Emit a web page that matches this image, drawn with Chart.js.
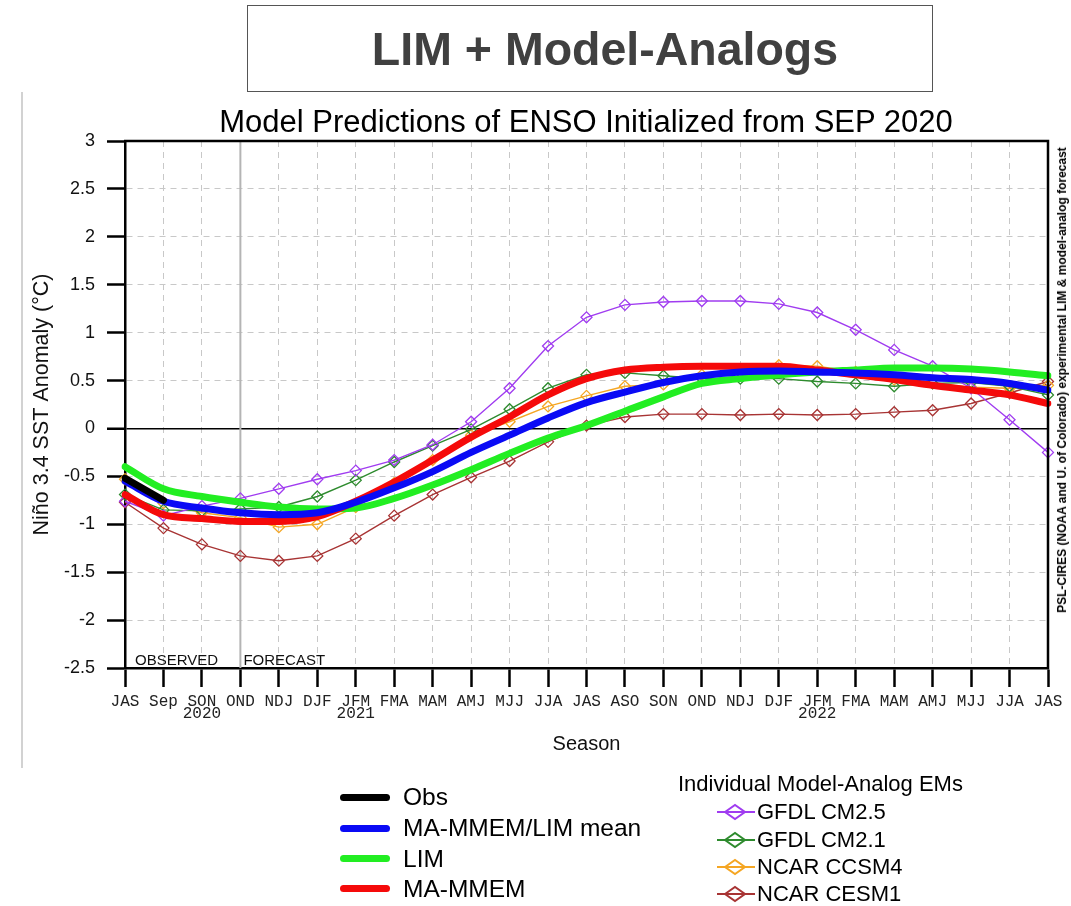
<!DOCTYPE html>
<html>
<head>
<meta charset="utf-8">
<script src="https://cdn.jsdelivr.net/npm/chart.js@4.4.1/dist/chart.umd.min.js"></script>
<style>
  body { margin: 0; background: #fff; font-family: "Liberation Sans", Arial, sans-serif; }
  #page { position: relative; width: 1071px; height: 906px; overflow: hidden; }
  #chart { position: absolute; left: 0; top: 0; }
  .t { position: absolute; white-space: nowrap; line-height: 1; color: #000; }
  #box { position: absolute; left: 247px; top: 5px; width: 686px; height: 87px; border: 1.5px solid #555;
         box-sizing: border-box; display: flex; align-items: center; justify-content: center; padding-left: 30px; }
  #box span { font: bold 46.5px "Liberation Sans", Arial, sans-serif; color: #404040; }
  #edge { position: absolute; left: 21px; top: 92px; width: 2px; height: 676px; background: #d2d2d2; }
  #title { left: 586px; top: 106px; font-size: 31px; transform: translateX(-50%); }
  #note { left: 1062px; top: 380px; font-size: 12px; font-weight: bold; transform: translate(-50%, -50%) rotate(-90deg); }
  .swatch { position: absolute; left: 340px; width: 50px; height: 7px; border-radius: 4px; }
  .ll { left: 403px; font-size: 24.5px; }
  .rl { left: 757px; font-size: 22px; }
  .mk { position: absolute; left: 716px; }
</style>
</head>
<body>
<div id="page">
  <canvas id="chart" width="1071" height="906"></canvas>
  <div id="box"><span>LIM + Model-Analogs</span></div>
  <div id="edge"></div>
  <div class="t" id="title">Model Predictions of ENSO Initialized from SEP 2020</div>
  <div class="t" id="note">PSL-CIRES (NOAA and U. of Colorado) experimental LIM &amp; model-analog forecast</div>
  <div id="legend"></div>
</div>
<script>
// seasons on the x axis, year written under some of them
const seasons = ['JAS', 'Sep', 'SON', 'OND', 'NDJ', 'DJF', 'JFM', 'FMA', 'MAM', 'AMJ', 'MJJ', 'JJA',
                 'JAS', 'ASO', 'SON', 'OND', 'NDJ', 'DJF', 'JFM', 'FMA', 'MAM', 'AMJ', 'MJJ', 'JJA', 'JAS'];
const years = ['', '', '2020', '', '', '', '2021', '', '', '', '', '',
               '', '', '', '', '', '', '2022', '', '', '', '', '', ''];
const yTicks = [-2.5, -2, -1.5, -1, -0.5, 0, 0.5, 1, 1.5, 2, 2.5, 3];
const forecastStart = 3; // OND

const obs = [-0.52, -0.75];
const maLimMean = [-0.55, -0.76, -0.83, -0.88, -0.90, -0.88, -0.77, -0.62, -0.45, -0.25, -0.07, 0.11,
                   0.27, 0.38, 0.48, 0.55, 0.59, 0.60, 0.59, 0.58, 0.56, 0.53, 0.51, 0.47, 0.40];
const lim = [-0.40, -0.63, -0.71, -0.77, -0.82, -0.84, -0.83, -0.73, -0.59, -0.43, -0.26, -0.10,
             0.03, 0.18, 0.33, 0.47, 0.52, 0.56, 0.59, 0.61, 0.63, 0.63, 0.62, 0.59, 0.55];
const maMmem = [-0.69, -0.90, -0.94, -0.97, -0.97, -0.92, -0.76, -0.56, -0.33, -0.09, 0.12, 0.35,
                0.52, 0.61, 0.64, 0.65, 0.65, 0.65, 0.61, 0.56, 0.51, 0.45, 0.40, 0.35, 0.26];
const gfdlCm25 = [-0.76, -0.91, -0.81, -0.73, -0.63, -0.53, -0.44, -0.33, -0.17, 0.07, 0.42, 0.86,
                  1.16, 1.29, 1.32, 1.33, 1.33, 1.30, 1.21, 1.03, 0.82, 0.65, 0.42, 0.09, -0.25];
const gfdlCm21 = [-0.69, -0.85, -0.86, -0.84, -0.82, -0.71, -0.54, -0.35, -0.18, -0.01, 0.20, 0.42,
                  0.56, 0.58, 0.55, 0.52, 0.52, 0.52, 0.49, 0.47, 0.44, 0.47, 0.48, 0.44, 0.35];
const ncarCcsm4 = [-0.53, -0.78, -0.88, -0.93, -1.03, -1.00, -0.82, -0.57, -0.33, -0.07, 0.07, 0.23,
                   0.34, 0.44, 0.46, 0.56, 0.62, 0.66, 0.65, 0.59, 0.51, 0.47, 0.43, 0.42, 0.45];
const ncarCesm1 = [-0.77, -1.04, -1.21, -1.33, -1.38, -1.33, -1.15, -0.91, -0.69, -0.51, -0.34, -0.14,
                   0.03, 0.12, 0.15, 0.15, 0.14, 0.15, 0.14, 0.15, 0.17, 0.19, 0.26, 0.37, 0.49];

const colors = {
  obs: '#000000', mean: '#0a0af5', lim: '#22ee22', mmem: '#f50a0a',
  cm25: '#a03cf0', cm21: '#2e8b2e', ccsm4: '#f5a623', cesm1: '#a83434'
};

const labels = seasons.map((s, i) => years[i] ? [s, years[i]] : s);

function thick(label, data, color, order) {
  return {
    label, data, order,
    borderColor: color, backgroundColor: color, borderWidth: 7,
    pointRadius: 0, cubicInterpolationMode: 'monotone',
    borderCapStyle: 'round', borderJoinStyle: 'round'
  };
}
function thin(label, data, color, order) {
  return {
    label, data, order,
    borderColor: color, backgroundColor: color, borderWidth: 1.4, tension: 0,
    pointStyle: 'rectRot', pointRadius: 5.5, pointBorderWidth: 1.3,
    pointBorderColor: color, pointBackgroundColor: 'rgba(255,255,255,0)'
  };
}

const extras = {
  id: 'extras',
  beforeDatasetsDraw(chart) {
    const { ctx, chartArea: a, scales: { x } } = chart;
    const xf = x.getPixelForValue(forecastStart);
    ctx.save();
    ctx.strokeStyle = '#b4b4b4';
    ctx.lineWidth = 2;
    ctx.beginPath();
    ctx.moveTo(xf, a.top);
    ctx.lineTo(xf, a.bottom);
    ctx.stroke();
    ctx.fillStyle = '#111';
    ctx.font = '15px "Liberation Sans", Arial, sans-serif';
    ctx.textBaseline = 'alphabetic';
    ctx.fillText('OBSERVED', x.getPixelForValue(0) + 10, a.bottom - 3);
    ctx.fillText('FORECAST', xf + 3, a.bottom - 3);
    ctx.restore();
  },
  afterDraw(chart) {
    const { ctx, chartArea: a } = chart;
    ctx.save();
    ctx.strokeStyle = '#000';
    ctx.lineWidth = 2.5;
    ctx.beginPath();
    ctx.moveTo(a.left - 1, a.top);
    ctx.lineTo(a.right, a.top);
    ctx.lineTo(a.right, a.bottom + 1);
    ctx.stroke();
    ctx.restore();
  }
};

new Chart(document.getElementById('chart'), {
  type: 'line',
  data: {
    labels: labels,
    datasets: [
      thick('Obs', obs, colors.obs, 0),
      thick('MA-MMEM/LIM mean', maLimMean, colors.mean, 1),
      thick('MA-MMEM', maMmem, colors.mmem, 2),
      thick('LIM', lim, colors.lim, 3),
      thin('GFDL CM2.5', gfdlCm25, colors.cm25, 4),
      thin('GFDL CM2.1', gfdlCm21, colors.cm21, 5),
      thin('NCAR CCSM4', ncarCcsm4, colors.ccsm4, 6),
      thin('NCAR CESM1', ncarCesm1, colors.cesm1, 7)
    ]
  },
  options: {
    responsive: false,
    animation: false,
    layout: { padding: { left: 29, top: 141, right: 23, bottom: 146 } },
    plugins: { legend: { display: false }, tooltip: { enabled: false }, title: { display: false } },
    scales: {
      x: {
        offset: false,
        grid: {
          offset: false, color: '#c8c8c8', lineWidth: 1,
          tickLength: 19, tickColor: '#000', tickWidth: 2.5
        },
        border: { color: '#000', width: 2.5, dash: [6, 5] },
        ticks: {
          autoSkip: false, maxRotation: 0, minRotation: 0, padding: 8, color: '#222',
          font: { family: '"Liberation Mono", "Courier New", monospace', size: 16, lineHeight: 0.8 }
        },
        title: {
          display: true, text: 'Season', color: '#111', padding: { top: 0, bottom: 4 },
          font: { family: '"Liberation Sans", Arial, sans-serif', size: 20 }
        },
        afterFit(scale) { scale.height = 92; }
      },
      y: {
        min: -2.5, max: 3,
        afterBuildTicks(scale) { scale.ticks = yTicks.map(v => ({ value: v })); },
        grid: {
          color: c => (c.tick && c.tick.value === 0) ? '#000' : '#c8c8c8',
          lineWidth: c => (c.tick && c.tick.value === 0) ? 1.5 : 1,
          tickLength: 18, tickColor: '#000', tickWidth: 2.5
        },
        border: {
          color: '#000', width: 2.5,
          dash: c => (c.tick && c.tick.value === 0) ? [] : [6, 5]
        },
        ticks: {
          padding: 12, color: '#111',
          font: { family: '"Liberation Sans", Arial, sans-serif', size: 18 },
          callback: v => String(v)
        },
        title: {
          display: true, text: 'Niño 3.4 SST Anomaly (°C)', color: '#111', padding: 0,
          font: { family: '"Liberation Sans", Arial, sans-serif', size: 21.5 }
        },
        afterFit(scale) { scale.width = 96; }
      }
    }
  },
  plugins: [extras]
});

// legend, two blocks under the chart
const mainLegend = [
  { text: 'Obs', color: colors.obs, y: 797 },
  { text: 'MA-MMEM/LIM mean', color: colors.mean, y: 828 },
  { text: 'LIM', color: colors.lim, y: 858.5 },
  { text: 'MA-MMEM', color: colors.mmem, y: 888.5 }
];
const memberLegend = [
  { text: 'GFDL CM2.5', color: colors.cm25, y: 812 },
  { text: 'GFDL CM2.1', color: colors.cm21, y: 839.5 },
  { text: 'NCAR CCSM4', color: colors.ccsm4, y: 866.5 },
  { text: 'NCAR CESM1', color: colors.cesm1, y: 894 }
];
const leg = document.getElementById('legend');
let html = '';
mainLegend.forEach(it => {
  html += `<div class="swatch" style="top:${it.y - 3.5}px;background:${it.color}"></div>`;
  html += `<div class="t ll" style="top:${it.y - 12}px">${it.text}</div>`;
});
html += `<div class="t" style="left:678px;top:${784 - 11}px;font-size:22px">Individual Model-Analog EMs</div>`;
memberLegend.forEach(it => {
  html += `<svg class="mk" style="top:${it.y - 9}px" width="40" height="18" viewBox="0 0 40 18">` +
          `<line x1="1" y1="9" x2="39" y2="9" stroke="${it.color}" stroke-width="2"/>` +
          `<polygon points="9,9 19,2 29,9 19,16" fill="none" stroke="${it.color}" stroke-width="2"/></svg>`;
  html += `<div class="t rl" style="top:${it.y - 11}px">${it.text}</div>`;
});
leg.innerHTML = html;
</script>
</body>
</html>
